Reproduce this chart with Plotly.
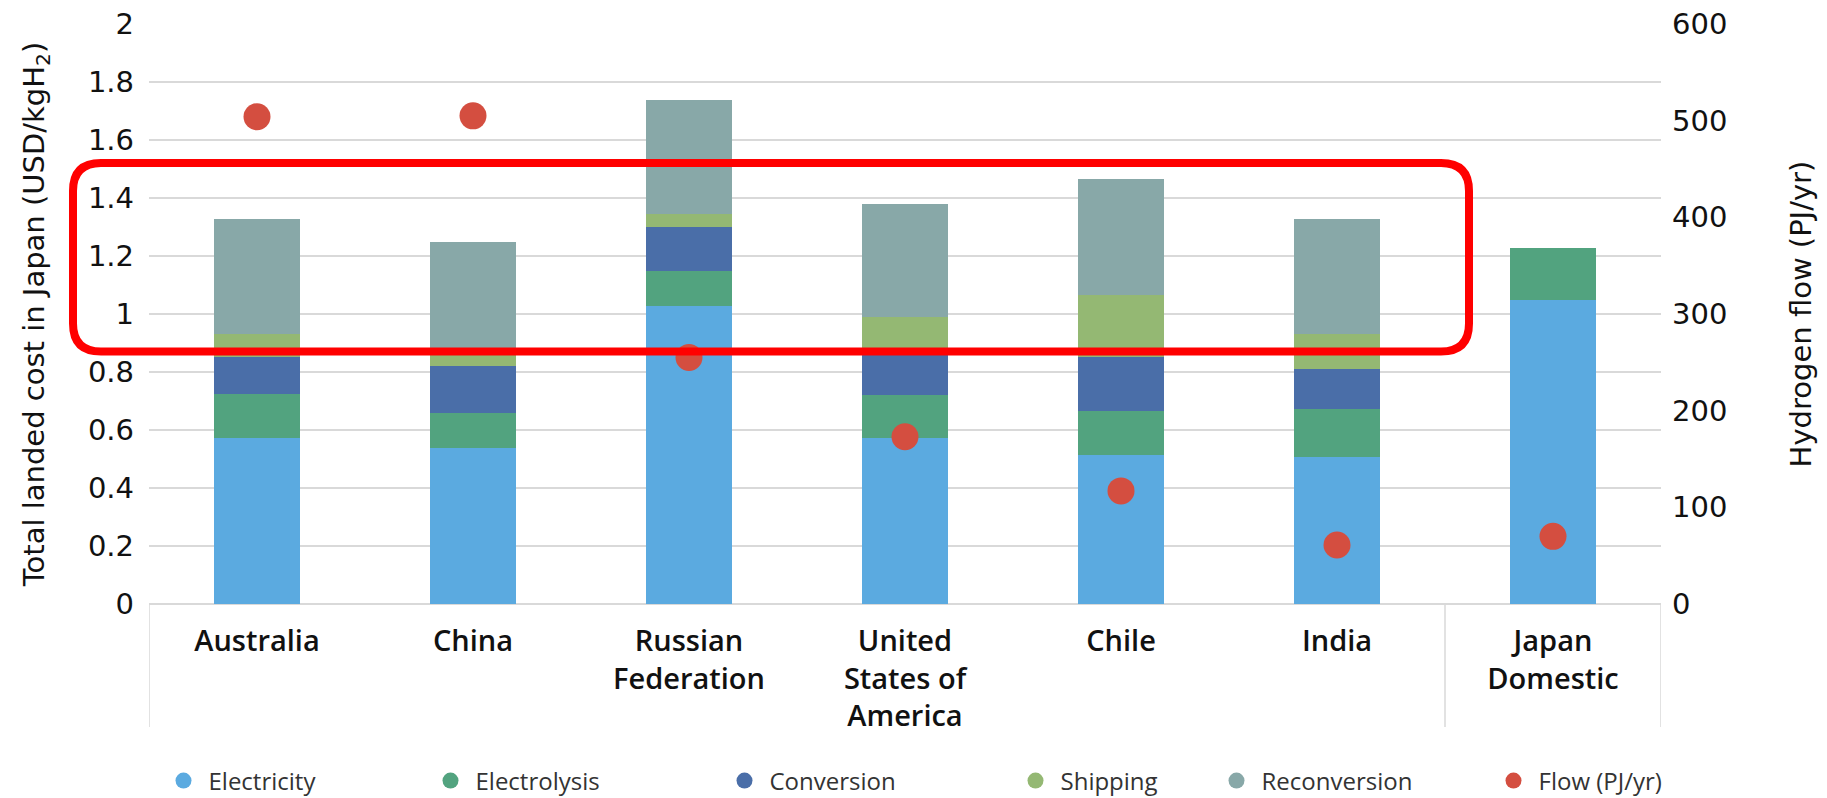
import plotly.graph_objects as go

# Landed hydrogen cost in Japan by supply route (USD/kgH2) and hydrogen flow (PJ/yr)
countries = ["Australia", "China", "Russian Federation", "United States of America",
             "Chile", "India", "Japan Domestic"]
tick_labels = ["Australia", "China", "Russian<br>Federation", "United<br>States of<br>America",
               "Chile", "India", "Japan<br>Domestic"]

electricity = [0.574, 0.539, 1.027, 0.574, 0.515, 0.507, 1.049]
electrolysis = [0.150, 0.119, 0.123, 0.146, 0.152, 0.164, 0.177]
conversion = [0.127, 0.161, 0.149, 0.150, 0.186, 0.141, 0.0]
shipping = [0.080, 0.060, 0.045, 0.118, 0.214, 0.119, 0.0]
reconversion = [0.395, 0.370, 0.395, 0.391, 0.398, 0.397, 0.0]
flow_pj = [504, 505, 255, 173, 117, 61, 70]

left_ticks = [0, 0.2, 0.4, 0.6, 0.8, 1, 1.2, 1.4, 1.6, 1.8, 2]
left_tick_text = ["0", "0.2", "0.4", "0.6", "0.8", "1", "1.2", "1.4", "1.6", "1.8", "2"]
right_ticks = [0, 100, 200, 300, 400, 500, 600]

cost_series = [
    ("Electricity", electricity, "#5BAAE0"),
    ("Electrolysis", electrolysis, "#52A37F"),
    ("Conversion", conversion, "#4A6EA8"),
    ("Shipping", shipping, "#94B873"),
    ("Reconversion", reconversion, "#88A8A8"),
]
flow_color = "#D44E40"

FONT = "DejaVu Sans"
LABEL_FONT = "Open Sans"
W, H = 1827, 798
L, R, T, B = 149, 166, 24, 194
PW, PH = W - L - R, H - T - B


def px_x(px):
    return (px - L) / PW


def px_y(py):
    return (H - B - py) / PH


fig = go.Figure()

for name, vals, color in cost_series:
    fig.add_trace(go.Bar(
        x=countries, y=vals, name=name, marker=dict(color=color, line=dict(width=0)),
        showlegend=False, yaxis="y",
    ))

fig.add_trace(go.Scatter(
    x=countries, y=flow_pj, name="Flow (PJ/yr)", mode="markers",
    marker=dict(color=flow_color, size=27, line=dict(width=0)),
    yaxis="y2", legend="legend6",
))

# circular legend keys for the stacked cost components
legend_ids = ["legend", "legend2", "legend3", "legend4", "legend5"]
for (name, _, color), lid in zip(cost_series, legend_ids):
    fig.add_trace(go.Scatter(
        x=[None], y=[None], name=name, mode="markers",
        marker=dict(color=color, size=16), legend=lid, yaxis="y",
    ))

legend_centres = [185, 452, 746, 1037, 1238, 1515]
legend_layout = {}
for lid, cx in zip(legend_ids + ["legend6"], legend_centres):
    legend_layout[lid] = dict(
        x=px_x(cx - 26.5), y=px_y(781), xanchor="left", yanchor="middle",
        orientation="h", bgcolor="rgba(0,0,0,0)", borderwidth=0,
        font=dict(family=LABEL_FONT, size=24, color="#333333"),
        itemsizing="trace", itemwidth=40,
    )

# category separators below the axis
sep_shapes = []
for xpos in [-0.5, 5.5, 6.5]:
    sep_shapes.append(dict(
        type="line", xref="x", yref="paper", x0=xpos, x1=xpos,
        y0=0, y1=px_y(727), line=dict(color="#D9D9D9", width=1.5), layer="below",
    ))

# rounded red highlight frame
x0, x1 = px_x(73), px_x(1469)
yt, yb = px_y(163), px_y(351.4)
rx, ry = 28 / PW, 28 / PH
frame_path = (
    f"M {x0 + rx},{yt} L {x1 - rx},{yt} Q {x1},{yt} {x1},{yt - ry} "
    f"L {x1},{yb + ry} Q {x1},{yb} {x1 - rx},{yb} "
    f"L {x0 + rx},{yb} Q {x0},{yb} {x0},{yb + ry} "
    f"L {x0},{yt - ry} Q {x0},{yt} {x0 + rx},{yt} Z"
)
frame = dict(type="path", xref="paper", yref="paper", path=frame_path,
             line=dict(color="#FF0000", width=8), fillcolor="rgba(0,0,0,0)", layer="above")

fig.update_layout(
    width=W, height=H,
    margin=dict(l=L, r=R, t=T, b=B, autoexpand=False),
    paper_bgcolor="white", plot_bgcolor="white",
    barmode="stack", bargap=0.6,
    font=dict(family=FONT, color="#111111"),
    xaxis=dict(
        type="category", tickvals=countries, ticktext=tick_labels,
        tickfont=dict(family=LABEL_FONT, size=29, color="#111111", weight=600),
        showgrid=False, showline=False, zeroline=False, ticks="",
        ticklabelstandoff=17, range=[-0.5, 6.5],
    ),
    yaxis=dict(
        range=[0, 2], tickvals=left_ticks, ticktext=left_tick_text,
        tickfont=dict(family=FONT, size=29, color="#111111"),
        showgrid=True, gridcolor="#D9D9D9", gridwidth=2,
        zeroline=True, zerolinecolor="#D9D9D9", zerolinewidth=2,
        showline=False, ticks="", ticklabelstandoff=14,
        title=dict(text="Total landed cost in Japan (USD/kgH<sub>2</sub>)",
                   font=dict(family=FONT, size=29, color="#111111"), standoff=34),
    ),
    yaxis2=dict(
        range=[0, 600], tickvals=right_ticks, overlaying="y", side="right",
        tickfont=dict(family=FONT, size=29, color="#111111"),
        showgrid=False, zeroline=False, showline=False, ticks="", ticklabelstandoff=10,
        title=dict(text="Hydrogen flow (PJ/yr)",
                   font=dict(family=FONT, size=29, color="#111111"), standoff=64),
    ),
    shapes=sep_shapes + [frame],
    **legend_layout,
)

fig.write_html("out.html")
